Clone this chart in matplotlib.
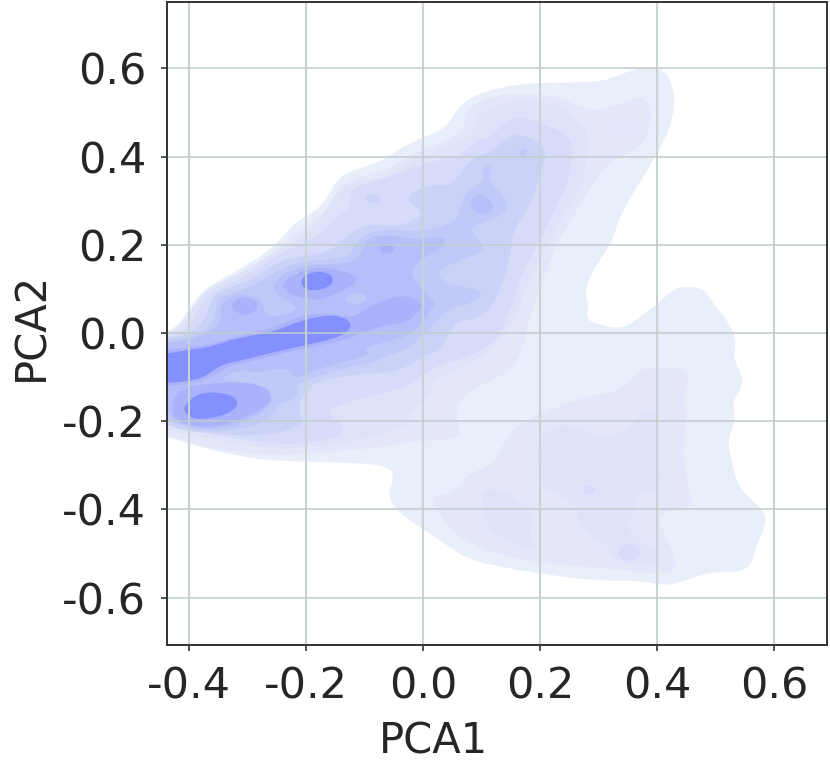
import matplotlib
matplotlib.use("Agg")
import matplotlib.pyplot as plt
from matplotlib.path import Path
from matplotlib.patches import PathPatch

plt.rcParams['axes.unicode_minus'] = False

X_TICKS = [-0.4, -0.2, 0.0, 0.2, 0.4, 0.6]
Y_TICKS = [-0.6, -0.4, -0.2, 0.0, 0.2, 0.4, 0.6]
X_LABEL = "PCA1"
Y_LABEL = "PCA2"
LEVEL_COLORS = ['#e8eefa', '#e3e7f9', '#dde3f9', '#d5dbf9', '#cbd2f8', '#c1c9f8', '#b7bffa', '#a9b2fb', '#8490fd']

L1_MAIN = [(-.437,0),(-.415,.023),(-.398,.057),(-.375,.098),(-.335,.129),(-.29,.163),(-.253,.197),(-.23,.235),(-.21,.258),(-.176,.284),(-.159,.318),(-.145,.352),(-.108,.375),(-.068,.39),(-.039,.42),(0,.443),(.04,.466),(.055,.5),(.072,.527),(.109,.549),(.154,.562),(.2,.567),(.257,.568),(.308,.57),(.354,.595),(.388,.606),(.414,.595),(.427,.561),(.43,.523),(.425,.477),(.411,.432),(.394,.394),(.371,.341),(.345,.288),(.331,.242),(.323,.205),(.303,.167),(.285,.129),(.277,.09),(.284,.06),(.278,.029),(.314,.014),(.342,.011),(.365,.03),(.399,.064),(.427,.098),(.45,.107),(.481,.1),(.495,.068),(.524,.023),(.536,-.019),(.53,-.057),(.547,-.098),(.544,-.128),(.528,-.158),(.535,-.2),(.521,-.242),(.527,-.287),(.538,-.347),(.561,-.377),(.586,-.408),(.586,-.438),(.569,-.483),(.561,-.528),(.538,-.543),(.49,-.542),(.456,-.558),(.416,-.574),(.376,-.562),(.325,-.562),(.268,-.558),(.2,-.545),(.138,-.532),(.075,-.513),(.035,-.475),(0,-.445),(-.044,-.404),(-.061,-.37),(-.05,-.332),(-.053,-.311),(-.073,-.3),(-.107,-.295),(-.198,-.292),(-.278,-.288),(-.335,-.273),(-.393,-.254),(-.437,-.236),(-.47,-.236),(-.47,0)]

L2_UPPER = [(-.437,-.002),(-.411,.023),(-.394,.057),(-.37,.098),(-.333,.121),(-.287,.155),(-.25,.189),(-.221,.223),(-.193,.254),(-.168,.273),(-.153,.311),(-.136,.341),(-.096,.36),(-.059,.371),(-.034,.394),(0,.417),(.04,.436),(.069,.458),(.072,.492),(.086,.519),(.132,.542),(.2,.542),(.234,.534),(.263,.515),(.297,.504),(.331,.515),(.365,.536),(.382,.53),(.391,.5),(.388,.462),(.371,.42),(.337,.402),(.308,.371),(.28,.318),(.257,.265),(.228,.197),(.205,.121),(.18,.03),(.177,-.008),(.163,-.053),(.155,-.083),(.064,-.14),(.055,-.196),(.069,-.24),(-.016,-.245),(-.073,-.26),(-.2,-.274),(-.278,-.278),(-.375,-.258),(-.437,-.229),(-.47,-.229),(-.47,-.002)]
L2_LOWER = [(.018,-.37),(.061,-.356),(.075,-.321),(.123,-.298),(.14,-.242),(.166,-.204),(.211,-.177),(.28,-.143),(.336,-.132),(.365,-.091),(.382,-.077),(.439,-.079),(.459,-.098),(.442,-.14),(.453,-.189),(.444,-.249),(.447,-.309),(.46,-.377),(.459,-.392),(.41,-.408),(.402,-.43),(.439,-.525),(.416,-.547),(.37,-.542),(.28,-.53),(.2,-.521),(.126,-.502),(.092,-.483),(.052,-.453),(.035,-.423),(.018,-.385)]

L3_UPPER = [(-.437,-.006),(-.407,.019),(-.39,.064),(-.373,.095),(-.33,.125),(-.284,.155),(-.253,.186),(-.215,.212),(-.187,.242),(-.175,.26),(-.142,.318),(-.131,.337),(-.056,.356),(-.034,.379),(0,.402),(.04,.42),(.086,.447),(.091,.489),(.109,.508),(.154,.527),(.223,.523),(.257,.496),(.283,.455),(.28,.402),(.275,.341),(.246,.28),(.223,.22),(.2,.167),(.177,.106),(.16,.045),(.1375,-.008),(.098,-.06),(.018,-.106),(.013,-.143),(-.024,-.181),(-.027,-.211),(-.073,-.23),(-.133,-.25),(-.2,-.261),(-.278,-.261),(-.364,-.239),(-.437,-.22),(-.47,-.22),(-.47,-.006)]
L3_ISLE_A = [(.098,-.377),(.109,-.355),(.138,-.355),(.172,-.385),(.189,-.415),(.18,-.457),(.197,-.487),(.177,-.494),(.155,-.472),(.12,-.453),(.109,-.426)]
L3_ISLE_B = [(.194,-.257),(.206,-.226),(.245,-.204),(.291,-.23),(.325,-.235),(.348,-.219),(.376,-.177),(.396,-.181),(.405,-.242),(.392,-.287),(.41,-.325),(.405,-.347),(.368,-.37),(.362,-.4),(.345,-.442),(.376,-.475),(.405,-.506),(.399,-.525),(.365,-.53),(.325,-.513),(.311,-.472),(.274,-.453),(.265,-.423),(.263,-.392),(.234,-.366),(.2,-.347)]
L3_ISLE_C = [(.336,.465),(.345,.474),(.352,.466),(.342,.455)]

L4_UPPER = [(-.437,-.01),(-.401,.011),(-.384,.053),(-.367,.087),(-.324,.117),(-.278,.148),(-.25,.178),(-.21,.201),(-.181,.22),(-.168,.235),(-.148,.265),(-.122,.288),(-.125,.314),(-.116,.333),(-.088,.342),(-.051,.356),(0,.383),(.035,.394),(.069,.405),(.092,.439),(.117,.443),(.137,.477),(.166,.492),(.211,.47),(.246,.451),(.256,.424),(.251,.356),(.234,.303),(.206,.227),(.189,.182),(.166,.129),(.154,.068),(.146,.045),(.132,-.008),(.092,-.049),(.018,-.075),(-.022,-.121),(-.073,-.136),(-.141,-.163),(-.164,-.178),(-.147,-.201),(-.133,-.22),(-.15,-.239),(-.221,-.254),(-.295,-.246),(-.393,-.22),(-.437,-.208),(-.47,-.208),(-.47,-.01)]
L4_ISLE_A = [(.333,-.494),(.345,-.478),(.36,-.478),(.376,-.502),(.353,-.52),(.336,-.51)]
L4_ISLE_B = [(.27,-.355),(.283,-.343),(.298,-.357),(.283,-.37)]

L5_UPPER = [(-.437,-.014),(-.393,.004),(-.373,.03),(-.364,.064),(-.355,.091),(-.313,.11),(-.273,.136),(-.247,.163),(-.21,.174),(-.164,.182),(-.142,.205),(-.116,.235),(-.091,.246),(-.045,.242),(-.008,.258),(-.002,.277),(-.034,.307),(.012,.339),(.038,.33),(.063,.356),(.075,.386),(.097,.398),(.126,.42),(.149,.447),(.172,.451),(.214,.42),(.2,.356),(.183,.288),(.154,.235),(.149,.167),(.132,.098),(.115,.053),(.086,.03),(.058,.026),(.041,-.008),(.03,-.038),(.001,-.053),(-.027,-.075),(-.05,-.09),(-.073,-.09),(-.101,-.092),(-.175,-.106),(-.207,-.136),(-.213,-.174),(-.204,-.212),(-.278,-.235),(-.364,-.227),(-.415,-.22),(-.437,-.205),(-.47,-.205),(-.47,-.014)]
L5_ISLE = [(-.102,.307),(-.087,.32),(-.069,.303),(-.085,.29)]

L6_UPPER = [(-.437,-.019),(-.387,-.004),(-.364,.015),(-.355,.045),(-.353,.068),(-.341,.087),(-.307,.098),(-.267,.125),(-.241,.148),(-.204,.163),(-.158,.167),(-.13,.17),(-.115,.201),(-.095,.227),(-.062,.235),(0,.231),(.057,.25),(.066,.295),(.075,.322),(.109,.348),(.097,.367),(.109,.383),(.119,.375),(.112,.345),(.15,.292),(.132,.265),(.08,.239),(.089,.22),(.112,.186),(.035,.152),(.026,.129),(.04,.114),(.064,.107),(.106,.094),(.086,.068),(.047,.057),(.021,.023),(.001,-.004),(-.027,-.038),(-.073,-.057),(-.084,-.067),(-.107,-.072),(-.193,-.102),(-.218,-.121),(-.21,-.144),(-.25,-.163),(-.25,-.178),(-.278,-.208),(-.335,-.223),(-.393,-.22),(-.437,-.197),(-.47,-.197),(-.47,-.019)]
L6_ISLE = [(.161,.411),(.171,.42),(.18,.413),(.172,.4)]

L7_MAIN = [(-.437,-.024),(-.387,-.011),(-.355,.008),(-.344,.034),(-.347,.057),(-.335,.08),(-.301,.091),(-.273,.072),(-.27,.042),(-.253,.036),(-.207,.053),(-.25,.087),(-.258,.106),(-.238,.136),(-.198,.155),(-.153,.155),(-.113,.163),(-.101,.197),(-.093,.216),(-.061,.223),(-.015,.212),(.037,.22),(.037,.205),(.019,.182),(-.015,.159),(-.021,.129),(.002,.098),(.022,.064),(.021,.068),(.001,.026),(-.027,-.008),(-.073,-.023),(-.101,-.034),(-.09,-.049),(-.113,-.057),(-.193,-.087),(-.221,-.106),(-.227,-.083),(-.253,-.08),(-.278,-.091),(-.313,-.083),(-.341,-.098),(-.344,-.11),(-.29,-.112),(-.261,-.129),(-.255,-.152),(-.278,-.186),(-.335,-.216),(-.393,-.216),(-.427,-.197),(-.437,-.174),(-.47,-.174),(-.47,-.024)]
L7_ISLE = [(.08,.3),(.097,.316),(.118,.3),(.122,.278),(.1,.266),(.083,.283)]
L7_BAY_LEVEL6 = [(-.138,.077),(-.113,.094),(-.09,.08),(-.113,.062)]

L8_BAND = [(-.437,-.039),(-.398,-.032),(-.364,-.027),(-.318,-.006),(-.255,.011),(-.204,.042),(-.164,.045),(-.118,.034),(-.101,.053),(-.078,.068),(-.044,.085),(-.015,.08),(.002,.061),(-.027,.023),(-.073,.015),(-.084,.008),(-.107,0),(-.13,-.015),(-.198,-.034),(-.25,-.049),(-.295,-.064),(-.335,-.076),(-.358,-.098),(-.393,-.114),(-.437,-.121),(-.47,-.121),(-.47,-.039)]
L8_LOWER = [(-.43,-.167),(-.42,-.132),(-.387,-.118),(-.347,-.113),(-.29,-.113),(-.26,-.132),(-.262,-.162),(-.3,-.19),(-.347,-.212),(-.393,-.212),(-.424,-.197)]
L8_UPPER = [(-.245,.11),(-.212,.14),(-.164,.152),(-.102,.125),(-.141,.092),(-.181,.072),(-.225,.085)]
L8_ISLE_A = [(-.33,.062),(-.315,.08),(-.293,.08),(-.279,.062),(-.293,.042),(-.315,.042)]
L8_ISLE_B = [(-.078,.193),(-.062,.208),(-.044,.191),(-.062,.175)]

L9_BAND = [(-.437,-.047),(-.401,-.038),(-.364,-.032),(-.318,-.011),(-.255,.002),(-.221,.023),(-.164,.042),(-.13,.034),(-.121,.015),(-.138,-.008),(-.198,-.027),(-.25,-.042),(-.295,-.057),(-.347,-.072),(-.375,-.102),(-.415,-.112),(-.437,-.112),(-.47,-.112),(-.47,-.047)]
L9_LOWER = [(-.405,-.158),(-.38,-.134),(-.335,-.136),(-.314,-.155),(-.325,-.178),(-.355,-.192),(-.388,-.197),(-.41,-.18)]
L9_UPPER = [(-.212,.115),(-.197,.137),(-.165,.14),(-.15,.12),(-.165,.1),(-.197,.095)]

# (level index, outline), painted from the outside in
FILLS = [
    (0, L1_MAIN), (1, L2_UPPER), (1, L2_LOWER), (2, L3_UPPER), (2, L3_ISLE_A), (2, L3_ISLE_B), (2, L3_ISLE_C),
    (3, L4_UPPER), (3, L4_ISLE_A), (3, L4_ISLE_B), (4, L5_UPPER), (4, L5_ISLE), (5, L6_UPPER), (5, L6_ISLE),
    (6, L7_MAIN), (6, L7_ISLE), (5, L7_BAY_LEVEL6), (7, L8_BAND), (7, L8_LOWER), (7, L8_UPPER), (7, L8_ISLE_A),
    (7, L8_ISLE_B), (8, L9_BAND), (8, L9_LOWER), (8, L9_UPPER),
]


def rounded_outline(pts):
    n = len(pts)
    mid = lambda a, b: ((a[0] + b[0]) / 2, (a[1] + b[1]) / 2)
    verts = [mid(pts[-1], pts[0])]
    codes = [Path.MOVETO]
    for i in range(n):
        verts += [pts[i], mid(pts[i], pts[(i + 1) % n])]
        codes += [Path.CURVE3, Path.CURVE3]
    verts.append(verts[0])
    codes.append(Path.CLOSEPOLY)
    return Path(verts, codes)


fig = plt.figure(figsize=(8.3, 7.68), dpi=100)
ax = fig.add_axes([167 / 830, 1 - 645 / 768, (826.5 - 167) / 830, (645 - 2) / 768])
for z, (level, outline) in enumerate(FILLS):
    ax.add_patch(PathPatch(rounded_outline(outline), facecolor=LEVEL_COLORS[level], edgecolor='none', zorder=1 + z * 0.01))

ax.set_xlim(-0.4376, 0.69)
ax.set_ylim(-0.7075, 0.7506)
ax.set_xticks(X_TICKS, [f"{v:.1f}" for v in X_TICKS])
ax.set_yticks(Y_TICKS, [f"{v:.1f}" for v in Y_TICKS])
ax.set_axisbelow(False)
ax.xaxis.grid(True, color='#c8d4d4', lw=1.5, zorder=5)
ax.yaxis.grid(True, color='#c0cdcd', lw=1.1, zorder=5)
ax.tick_params(axis='both', length=4, width=1.1, color='#262626', labelcolor='#262626', labelsize=31, pad=11)
for s in ax.spines.values():
    s.set_color('#333333')
    s.set_linewidth(1.4)
    s.set_zorder(6)
ax.set_xlabel(X_LABEL, fontsize=30, color='#262626')
ax.set_ylabel(Y_LABEL, fontsize=30, color='#262626')
ax.xaxis.set_label_coords(0.404, -0.118)
ax.yaxis.set_label_coords(-0.174, 0.496)
fig.savefig("out.png", dpi=100)
